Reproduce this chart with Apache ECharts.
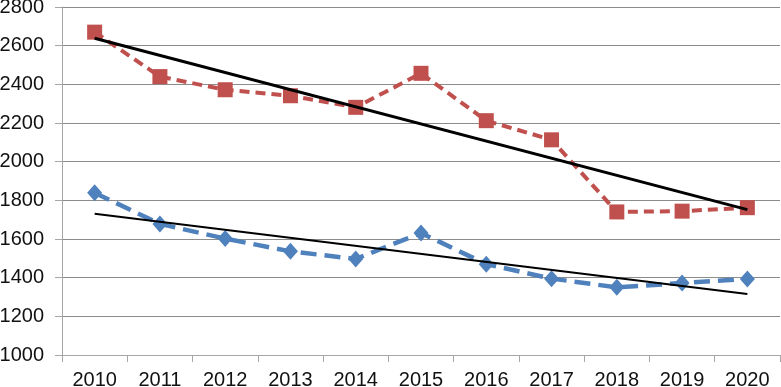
<!DOCTYPE html>
<html>
<head>
<meta charset="utf-8">
<script src="https://cdn.jsdelivr.net/npm/echarts@6/dist/echarts.min.js"></script>
<style>
  html, body { margin: 0; padding: 0; background: #fff; }
  #chart { width: 781px; height: 387px; }
</style>
</head>
<body>
<div id="chart"></div>
<script>
// data
var years = ['2010', '2011', '2012', '2013', '2014', '2015', '2016', '2017', '2018', '2019', '2020'];
var redValues = [2670, 2440, 2372, 2341, 2281, 2457, 2212, 2113, 1740, 1744, 1762];
var blueValues = [1839, 1678, 1602, 1536, 1497, 1631, 1470, 1395, 1350, 1372, 1393];
// trend lines: only both ends are known, nulls in between
var redTrend = [2638, null, null, null, null, null, null, null, null, null, 1752];
var blueTrend = [1730, null, null, null, null, null, null, null, null, null, 1316];

var chart = echarts.init(document.getElementById('chart'));

var option = {
  animation: false,
  backgroundColor: '#fff',
  grid: { left: 62, right: 1, top: 7, bottom: 32, outerBoundsMode: 'none' },
  xAxis: {
    type: 'category',
    data: years,
    boundaryGap: true,
    axisLine: { lineStyle: { color: '#a6a6a6', width: 1 } },
    axisTick: { show: true, length: 7, alignWithLabel: false, lineStyle: { color: '#a6a6a6' } },
    axisLabel: { color: '#111', fontSize: 20, fontFamily: 'Liberation Sans', margin: 15 }
  },
  yAxis: {
    type: 'value',
    min: 1000,
    max: 2800,
    interval: 200,
    axisLine: { show: true, lineStyle: { color: '#a6a6a6', width: 1 } },
    axisTick: { show: true, length: 7, lineStyle: { color: '#a6a6a6' } },
    splitLine: { lineStyle: { color: '#8c8c8c', width: 1 } },
    axisLabel: {
      color: '#111', fontSize: 20, fontFamily: 'Liberation Sans', margin: 18,
      formatter: function (v) { return String(v); }
    }
  },
  series: [
    {
      name: 'red',
      type: 'line',
      data: redValues,
      symbol: 'rect',
      symbolSize: 15,
      itemStyle: { color: '#c0504d' },
      lineStyle: { color: '#c0504d', width: 4, type: [10, 6] },
      z: 2
    },
    {
      name: 'blue',
      type: 'line',
      data: blueValues,
      symbol: 'diamond',
      symbolSize: [15, 17],
      itemStyle: { color: '#4f81bd' },
      lineStyle: { color: '#4f81bd', width: 4.5, type: [16, 8] },
      z: 2
    },
    {
      name: 'redTrend',
      type: 'line',
      data: redTrend,
      connectNulls: true,
      showSymbol: false,
      symbol: 'none',
      lineStyle: { color: '#000', width: 3 },
      z: 3
    },
    {
      name: 'blueTrend',
      type: 'line',
      data: blueTrend,
      connectNulls: true,
      showSymbol: false,
      symbol: 'none',
      lineStyle: { color: '#000', width: 2 },
      z: 3
    }
  ]
};

chart.setOption(option);
</script>
</body>
</html>
